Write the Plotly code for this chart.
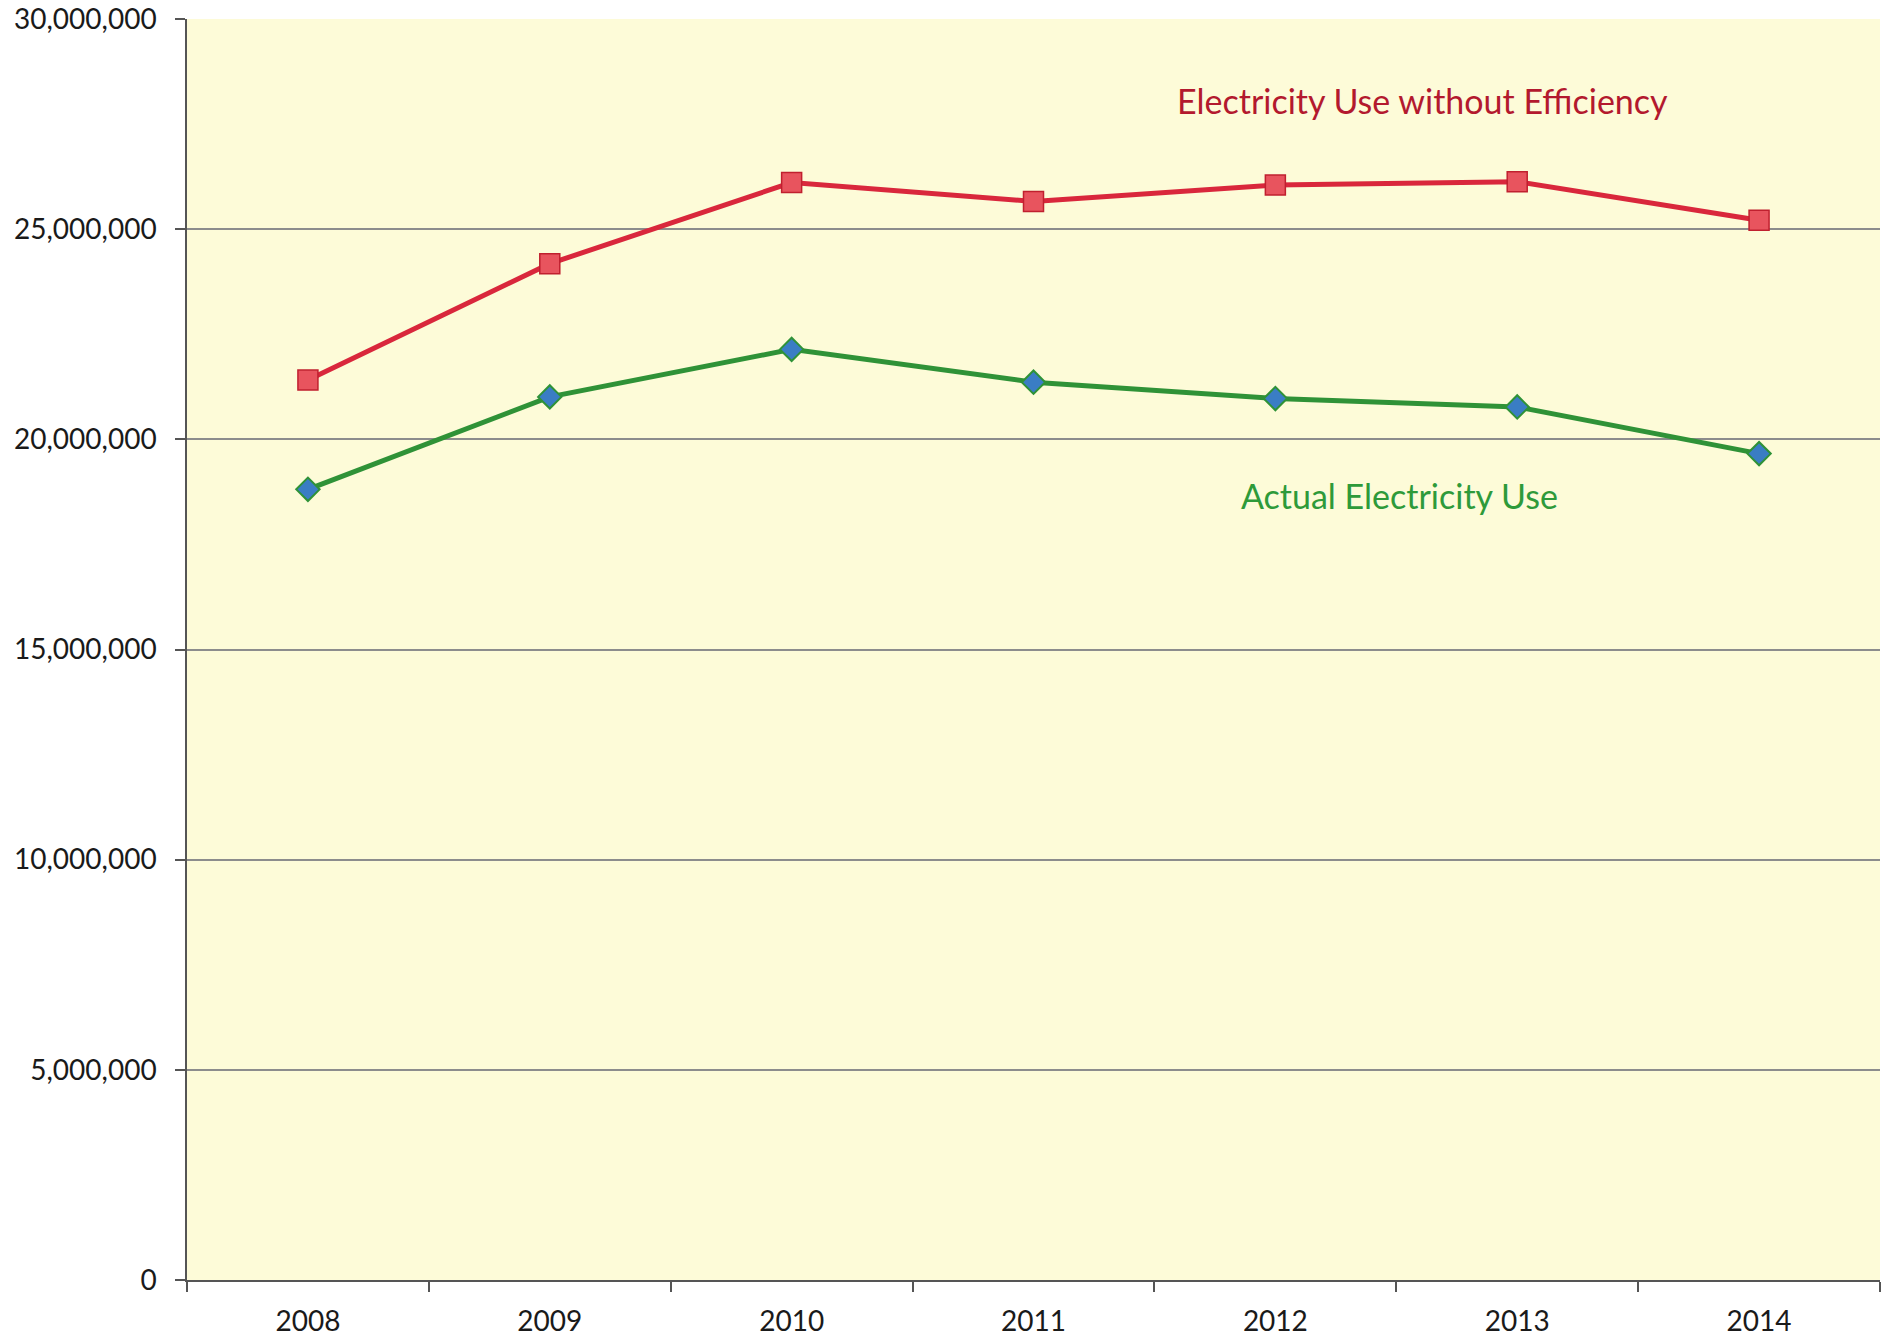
import plotly.graph_objects as go

years = ["2008", "2009", "2010", "2011", "2012", "2013", "2014"]
without_efficiency = [21410000, 24180000, 26110000, 25660000, 26050000, 26130000, 25210000]
actual_use = [18810000, 21010000, 22140000, 21360000, 20970000, 20770000, 19660000]
y_ticks = [0, 5000000, 10000000, 15000000, 20000000, 25000000, 30000000]

FONT = "Lato"

fig = go.Figure()
fig.add_trace(go.Scatter(
    x=years, y=without_efficiency, mode="lines+markers",
    name="Electricity Use without Efficiency",
    line=dict(color="#D9273C", width=5),
    marker=dict(symbol="square", size=20, color="#E8545E",
                line=dict(color="#C0202F", width=1.5)),
))
fig.add_trace(go.Scatter(
    x=years, y=actual_use, mode="lines+markers",
    name="Actual Electricity Use",
    line=dict(color="#2F9237", width=5),
    marker=dict(symbol="diamond", size=18, color="#3A7DC4",
                line=dict(color="#2F9237", width=2)),
))

fig.add_annotation(x=0.730, xref="paper", y=28070000, yref="y",
                   xanchor="center", yanchor="middle",
                   text="Electricity Use without Efficiency", showarrow=False,
                   font=dict(family=FONT, size=34, color="#B3192E"))
fig.add_annotation(x=0.716, xref="paper", y=18660000, yref="y",
                   xanchor="center", yanchor="middle",
                   text="Actual Electricity Use", showarrow=False,
                   font=dict(family=FONT, size=34, color="#2E9A3A"))

fig.update_layout(
    width=1896, height=1340,
    margin=dict(l=187, r=16, t=19, b=60, autoexpand=False),
    paper_bgcolor="white",
    plot_bgcolor="#FDFBD8",
    showlegend=False,
    font=dict(family=FONT, size=28, color="#1a1a1a"),
)
fig.update_xaxes(
    type="category", range=[-0.5, 6.5], automargin=False,
    tickson="boundaries", ticks="outside", ticklen=10, tickwidth=1.5,
    tickcolor="#555", showline=True, linecolor="#555", linewidth=1.5,
    showgrid=False, tickfont=dict(family=FONT, size=28, color="#1a1a1a"),
    ticklabelstandoff=16,
)
fig.update_yaxes(
    range=[0, 30000000], tickvals=y_ticks, tickformat=",", automargin=False,
    ticks="outside", ticklen=10, tickwidth=1.5, tickcolor="#555",
    showline=True, linecolor="#555", linewidth=1.5,
    showgrid=True, gridcolor="#8C8C8C", gridwidth=1.5, zeroline=False,
    tickfont=dict(family=FONT, size=28, color="#1a1a1a"),
    ticklabelstandoff=13,
)

fig.write_html("out.html")
